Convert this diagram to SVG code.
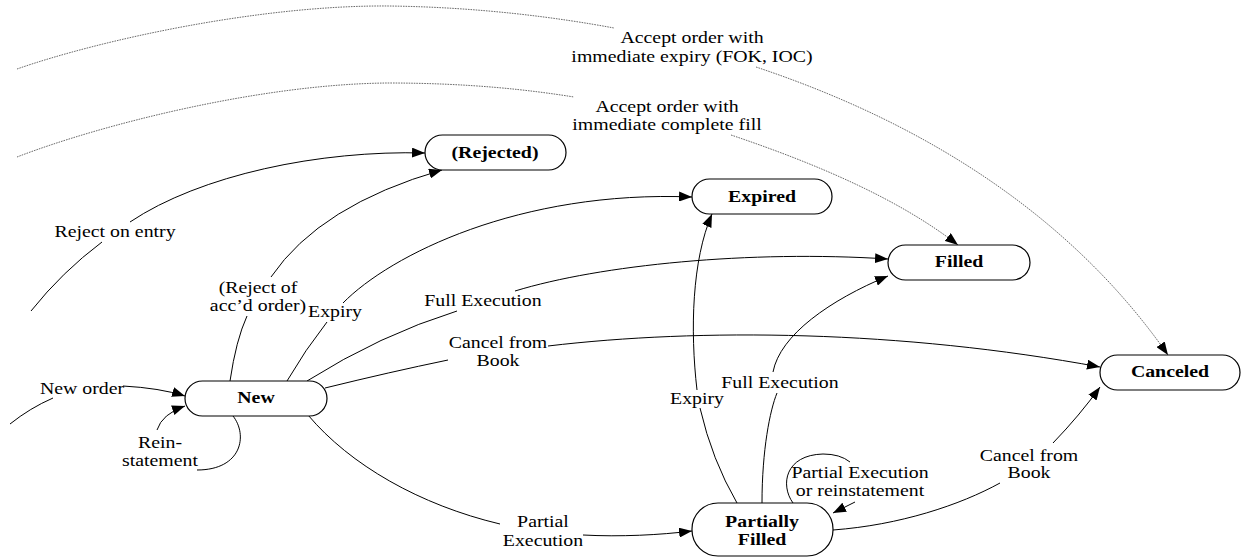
<svg xmlns="http://www.w3.org/2000/svg" width="1245" height="560" viewBox="0 0 1245 560">
<style>
.node rect{fill:#fff;stroke:#000;stroke-width:1.2}
.nt{font-family:"Liberation Serif","Times New Roman",serif;font-size:16px;font-weight:bold;text-anchor:middle;fill:#000}
.lt{font-family:"Liberation Serif","Times New Roman",serif;font-size:16px;text-anchor:middle;fill:#000}
.e{fill:none;stroke:#000;stroke-width:1}
.ea{fill:none;stroke:#000;stroke-width:1;marker-end:url(#ah)}
.d{fill:none;stroke:#444;stroke-width:0.8;stroke-dasharray:1.6 1}
.da{fill:none;stroke:#444;stroke-width:0.8;stroke-dasharray:1.6 1;marker-end:url(#ah)}
</style>
<defs>
<marker id="ah" markerUnits="userSpaceOnUse" markerWidth="14" markerHeight="10" refX="13" refY="5" orient="auto">
<path d="M0,0 L13,5 L0,10 z" fill="#000"/>
</marker>
</defs>
<rect width="1245" height="560" fill="#fff"/>

<g id="connectors">
<!-- dotted: accept with immediate expiry -->
<path class="d" d="M17,69 C100,40 260,5 388,6 C480,7 560,18 614,28"/>
<path class="da" d="M756,67 C900,115 1060,200 1168,355"/>
<!-- dotted: accept with immediate complete fill -->
<path class="d" d="M17,157 C100,125 260,84 388,83 C470,83 530,90 574,97"/>
<path class="da" d="M731,135 C820,165 900,200 958,245"/>
<!-- reject on entry -->
<path class="e" d="M31,311 Q62,272 102,242"/>
<path class="ea" d="M130,222 C200,175 320,150 425,153"/>
<!-- reject of acc'd order -->
<path class="e" d="M230,381 Q236,340 247,316"/>
<path class="ea" d="M271,277 Q320,205 442,170"/>
<!-- new expiry -->
<path class="e" d="M287,381 Q305,350 327,322"/>
<path class="ea" d="M343,303 C390,255 520,190 692,197"/>
<!-- new full execution -->
<path class="e" d="M307,381 Q380,335 457,311"/>
<path class="ea" d="M515,291 C600,265 750,250 888,259"/>
<!-- new cancel -->
<path class="e" d="M325,388 Q390,372 448,360"/>
<path class="ea" d="M548,346 C700,328 900,330 1100,367"/>
<!-- new partial execution -->
<path class="e" d="M308,415 C350,465 420,505 500,524"/>
<path class="ea" d="M583,535 C620,537 660,535 692,531"/>
<!-- new order -->
<path class="e" d="M10,424 Q30,408 53,398"/>
<path class="ea" d="M123,386 Q160,388 185,396"/>
<!-- reinstatement loop -->
<path class="e" d="M233,416 C248,435 242,470 197,470"/>
<path class="ea" d="M157,430 Q162,414 185,406"/>
<!-- PF expiry -->
<path class="e" d="M737,503 Q712,460 700,408"/>
<path class="ea" d="M697,390 C690,330 692,260 712,214"/>
<!-- PF full execution -->
<path class="e" d="M762,503 C762,450 770,410 777,393"/>
<path class="ea" d="M773,372 C780,335 830,300 888,276"/>
<!-- PF self loop -->
<path class="e" d="M793,503 C780,485 785,455 823,454 Q840,454 850,462"/>
<path class="ea" d="M855,502 L833,513"/>
<!-- PF cancel -->
<path class="e" d="M833,530 C900,525 960,505 1000,483"/>
<path class="ea" d="M1053,443 Q1080,415 1100,387"/>
</g>

<g id="labels">
<text class="lt" transform="translate(692,43) scale(1.24,1)"><tspan x="0">Accept order with</tspan><tspan x="0" dy="19">immediate expiry (FOK, IOC)</tspan></text>
<text class="lt" transform="translate(667,112) scale(1.24,1)"><tspan x="0">Accept order with</tspan><tspan x="0" dy="18">immediate complete fill</tspan></text>
<text class="lt" transform="translate(115,237) scale(1.24,1)">Reject on entry</text>
<text class="lt" transform="translate(258,293) scale(1.24,1)"><tspan x="0">(Reject of</tspan><tspan x="0" dy="18">acc’d order)</tspan></text>
<text class="lt" transform="translate(335,317) scale(1.24,1)">Expiry</text>
<text class="lt" transform="translate(483,306) scale(1.24,1)">Full Execution</text>
<text class="lt" transform="translate(498,348) scale(1.24,1)"><tspan x="0">Cancel from</tspan><tspan x="0" dy="18">Book</tspan></text>
<text class="lt" transform="translate(82,394) scale(1.24,1)">New order</text>
<text class="lt" transform="translate(160,448) scale(1.24,1)"><tspan x="0">Rein-</tspan><tspan x="0" dy="18">statement</tspan></text>
<text class="lt" transform="translate(543,527) scale(1.24,1)"><tspan x="0">Partial</tspan><tspan x="0" dy="19">Execution</tspan></text>
<text class="lt" transform="translate(697,404) scale(1.24,1)">Expiry</text>
<text class="lt" transform="translate(780,388) scale(1.24,1)">Full Execution</text>
<text class="lt" transform="translate(860,478) scale(1.24,1)"><tspan x="0">Partial Execution</tspan><tspan x="0" dy="18">or reinstatement</tspan></text>
<text class="lt" transform="translate(1029,461) scale(1.24,1)"><tspan x="0">Cancel from</tspan><tspan x="0" dy="17">Book</tspan></text>
</g>

<g id="node-rejected" class="node">
<rect x="425" y="135" width="141" height="35" rx="17.5"/>
<text class="nt" transform="translate(495,158) scale(1.24,1)">(Rejected)</text>
</g>
<g id="node-expired" class="node">
<rect x="692" y="179" width="140" height="35" rx="17.5"/>
<text class="nt" transform="translate(762,202) scale(1.24,1)">Expired</text>
</g>
<g id="node-filled" class="node">
<rect x="888" y="245" width="142" height="35" rx="17.5"/>
<text class="nt" transform="translate(959,267) scale(1.24,1)">Filled</text>
</g>
<g id="node-canceled" class="node">
<rect x="1100" y="355" width="140" height="35" rx="17.5"/>
<text class="nt" transform="translate(1170,377) scale(1.24,1)">Canceled</text>
</g>
<g id="node-new" class="node">
<rect x="185" y="381" width="142" height="35" rx="17.5"/>
<text class="nt" transform="translate(256,403) scale(1.24,1)">New</text>
</g>
<g id="node-partially-filled" class="node">
<rect x="692" y="503" width="141" height="53" rx="26"/>
<text class="nt" transform="translate(762,527) scale(1.24,1)"><tspan x="0">Partially</tspan><tspan x="0" dy="18">Filled</tspan></text>
</g>
</svg>
